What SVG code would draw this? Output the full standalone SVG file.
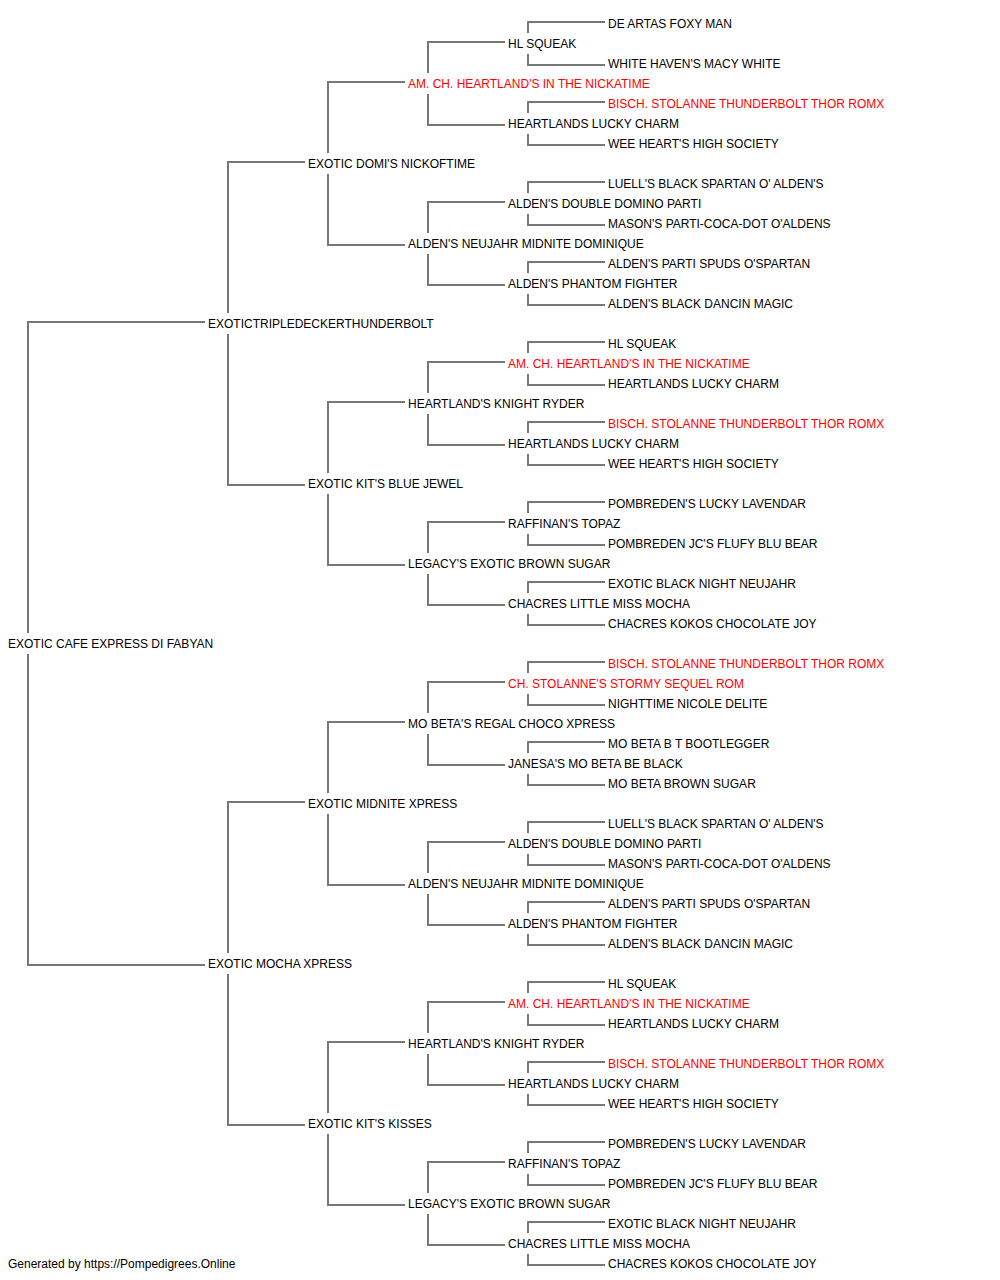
<svg xmlns="http://www.w3.org/2000/svg" width="1000" height="1280" viewBox="0 0 1000 1280">
<style>
text{font-family:"Liberation Sans",Arial,sans-serif;font-size:12px;fill:#000}
text.r{fill:#f00}
#connectors path{fill:none;stroke:#777;stroke-width:2}
</style>
<rect width="1000" height="1280" fill="#fff"/>
<g id="connectors">
<path d="M205,322H28V633M28,654V965H205"/>
<path d="M305,162H228V313M228,334V485H305"/>
<path d="M305,802H228V953M228,974V1125H305"/>
<path d="M405,82H328V153M328,174V245H405"/>
<path d="M405,402H328V473M328,494V565H405"/>
<path d="M405,722H328V793M328,814V885H405"/>
<path d="M405,1042H328V1113M328,1134V1205H405"/>
<path d="M505,42H428V73M428,94V125H505"/>
<path d="M505,202H428V233M428,254V285H505"/>
<path d="M505,362H428V393M428,414V445H505"/>
<path d="M505,522H428V553M428,574V605H505"/>
<path d="M505,682H428V713M428,734V765H505"/>
<path d="M505,842H428V873M428,894V925H505"/>
<path d="M505,1002H428V1033M428,1054V1085H505"/>
<path d="M505,1162H428V1193M428,1214V1245H505"/>
<path d="M605,22H528V33M528,54V65H605"/>
<path d="M605,102H528V113M528,134V145H605"/>
<path d="M605,182H528V193M528,214V225H605"/>
<path d="M605,262H528V273M528,294V305H605"/>
<path d="M605,342H528V353M528,374V385H605"/>
<path d="M605,422H528V433M528,454V465H605"/>
<path d="M605,502H528V513M528,534V545H605"/>
<path d="M605,582H528V593M528,614V625H605"/>
<path d="M605,662H528V673M528,694V705H605"/>
<path d="M605,742H528V753M528,774V785H605"/>
<path d="M605,822H528V833M528,854V865H605"/>
<path d="M605,902H528V913M528,934V945H605"/>
<path d="M605,982H528V993M528,1014V1025H605"/>
<path d="M605,1062H528V1073M528,1094V1105H605"/>
<path d="M605,1142H528V1153M528,1174V1185H605"/>
<path d="M605,1222H528V1233M528,1254V1265H605"/>
</g>
<g id="n0"><text x="608" y="28">DE ARTAS FOXY MAN</text></g>
<g id="n1"><text x="508" y="48">HL SQUEAK</text></g>
<g id="n2"><text x="608" y="68">WHITE HAVEN'S MACY WHITE</text></g>
<g id="n3"><text class="r" x="408" y="88">AM. CH. HEARTLAND'S IN THE NICKATIME</text></g>
<g id="n4"><text class="r" x="608" y="108">BISCH. STOLANNE THUNDERBOLT THOR ROMX</text></g>
<g id="n5"><text x="508" y="128">HEARTLANDS LUCKY CHARM</text></g>
<g id="n6"><text x="608" y="148">WEE HEART'S HIGH SOCIETY</text></g>
<g id="n7"><text x="308" y="168">EXOTIC DOMI'S NICKOFTIME</text></g>
<g id="n8"><text x="608" y="188">LUELL'S BLACK SPARTAN O' ALDEN'S</text></g>
<g id="n9"><text x="508" y="208">ALDEN'S DOUBLE DOMINO PARTI</text></g>
<g id="n10"><text x="608" y="228">MASON'S PARTI-COCA-DOT O'ALDENS</text></g>
<g id="n11"><text x="408" y="248">ALDEN'S NEUJAHR MIDNITE DOMINIQUE</text></g>
<g id="n12"><text x="608" y="268">ALDEN'S PARTI SPUDS O'SPARTAN</text></g>
<g id="n13"><text x="508" y="288">ALDEN'S PHANTOM FIGHTER</text></g>
<g id="n14"><text x="608" y="308">ALDEN'S BLACK DANCIN MAGIC</text></g>
<g id="n15"><text x="208" y="328">EXOTICTRIPLEDECKERTHUNDERBOLT</text></g>
<g id="n16"><text x="608" y="348">HL SQUEAK</text></g>
<g id="n17"><text class="r" x="508" y="368">AM. CH. HEARTLAND'S IN THE NICKATIME</text></g>
<g id="n18"><text x="608" y="388">HEARTLANDS LUCKY CHARM</text></g>
<g id="n19"><text x="408" y="408">HEARTLAND'S KNIGHT RYDER</text></g>
<g id="n20"><text class="r" x="608" y="428">BISCH. STOLANNE THUNDERBOLT THOR ROMX</text></g>
<g id="n21"><text x="508" y="448">HEARTLANDS LUCKY CHARM</text></g>
<g id="n22"><text x="608" y="468">WEE HEART'S HIGH SOCIETY</text></g>
<g id="n23"><text x="308" y="488">EXOTIC KIT'S BLUE JEWEL</text></g>
<g id="n24"><text x="608" y="508">POMBREDEN'S LUCKY LAVENDAR</text></g>
<g id="n25"><text x="508" y="528">RAFFINAN'S TOPAZ</text></g>
<g id="n26"><text x="608" y="548">POMBREDEN JC'S FLUFY BLU BEAR</text></g>
<g id="n27"><text x="408" y="568">LEGACY'S EXOTIC BROWN SUGAR</text></g>
<g id="n28"><text x="608" y="588">EXOTIC BLACK NIGHT NEUJAHR</text></g>
<g id="n29"><text x="508" y="608">CHACRES LITTLE MISS MOCHA</text></g>
<g id="n30"><text x="608" y="628">CHACRES KOKOS CHOCOLATE JOY</text></g>
<g id="n31"><text x="8" y="648">EXOTIC CAFE EXPRESS DI FABYAN</text></g>
<g id="n32"><text class="r" x="608" y="668">BISCH. STOLANNE THUNDERBOLT THOR ROMX</text></g>
<g id="n33"><text class="r" x="508" y="688">CH. STOLANNE'S STORMY SEQUEL ROM</text></g>
<g id="n34"><text x="608" y="708">NIGHTTIME NICOLE DELITE</text></g>
<g id="n35"><text x="408" y="728">MO BETA'S REGAL CHOCO XPRESS</text></g>
<g id="n36"><text x="608" y="748">MO BETA B T BOOTLEGGER</text></g>
<g id="n37"><text x="508" y="768">JANESA'S MO BETA BE BLACK</text></g>
<g id="n38"><text x="608" y="788">MO BETA BROWN SUGAR</text></g>
<g id="n39"><text x="308" y="808">EXOTIC MIDNITE XPRESS</text></g>
<g id="n40"><text x="608" y="828">LUELL'S BLACK SPARTAN O' ALDEN'S</text></g>
<g id="n41"><text x="508" y="848">ALDEN'S DOUBLE DOMINO PARTI</text></g>
<g id="n42"><text x="608" y="868">MASON'S PARTI-COCA-DOT O'ALDENS</text></g>
<g id="n43"><text x="408" y="888">ALDEN'S NEUJAHR MIDNITE DOMINIQUE</text></g>
<g id="n44"><text x="608" y="908">ALDEN'S PARTI SPUDS O'SPARTAN</text></g>
<g id="n45"><text x="508" y="928">ALDEN'S PHANTOM FIGHTER</text></g>
<g id="n46"><text x="608" y="948">ALDEN'S BLACK DANCIN MAGIC</text></g>
<g id="n47"><text x="208" y="968">EXOTIC MOCHA XPRESS</text></g>
<g id="n48"><text x="608" y="988">HL SQUEAK</text></g>
<g id="n49"><text class="r" x="508" y="1008">AM. CH. HEARTLAND'S IN THE NICKATIME</text></g>
<g id="n50"><text x="608" y="1028">HEARTLANDS LUCKY CHARM</text></g>
<g id="n51"><text x="408" y="1048">HEARTLAND'S KNIGHT RYDER</text></g>
<g id="n52"><text class="r" x="608" y="1068">BISCH. STOLANNE THUNDERBOLT THOR ROMX</text></g>
<g id="n53"><text x="508" y="1088">HEARTLANDS LUCKY CHARM</text></g>
<g id="n54"><text x="608" y="1108">WEE HEART'S HIGH SOCIETY</text></g>
<g id="n55"><text x="308" y="1128">EXOTIC KIT'S KISSES</text></g>
<g id="n56"><text x="608" y="1148">POMBREDEN'S LUCKY LAVENDAR</text></g>
<g id="n57"><text x="508" y="1168">RAFFINAN'S TOPAZ</text></g>
<g id="n58"><text x="608" y="1188">POMBREDEN JC'S FLUFY BLU BEAR</text></g>
<g id="n59"><text x="408" y="1208">LEGACY'S EXOTIC BROWN SUGAR</text></g>
<g id="n60"><text x="608" y="1228">EXOTIC BLACK NIGHT NEUJAHR</text></g>
<g id="n61"><text x="508" y="1248">CHACRES LITTLE MISS MOCHA</text></g>
<g id="n62"><text x="608" y="1268">CHACRES KOKOS CHOCOLATE JOY</text></g>
<g id="footer"><text x="8" y="1268">Generated by https://Pompedigrees.Online</text></g>
</svg>
